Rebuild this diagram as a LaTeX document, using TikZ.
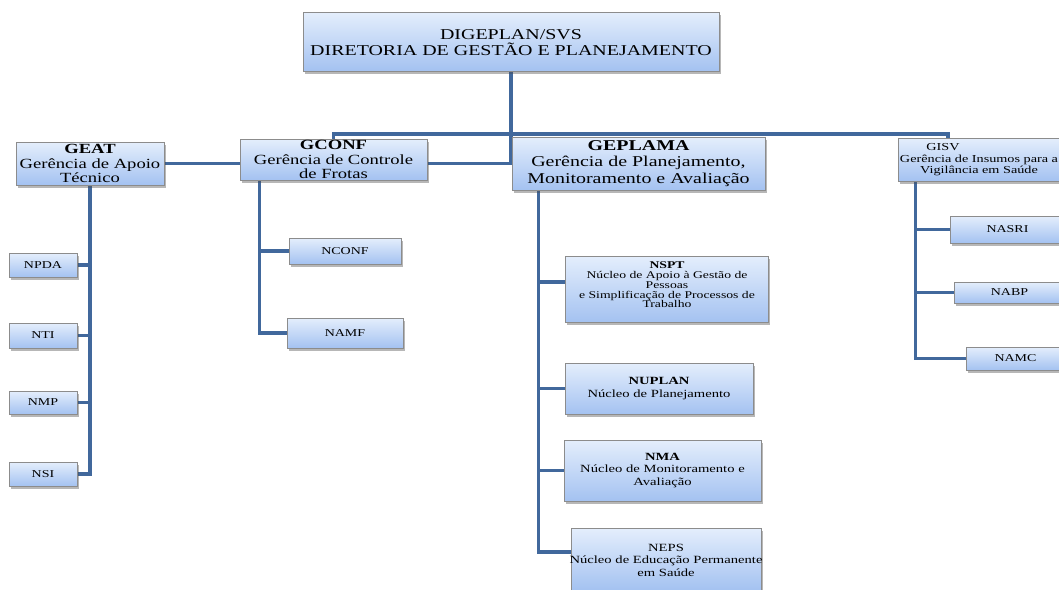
\documentclass[tikz,border=0pt]{standalone}
\usepackage{fontspec}
\setmainfont[FakeStretch=1.33]{Liberation Serif}
\usetikzlibrary{shadows,backgrounds}
\definecolor{linec}{HTML}{41689C}
\definecolor{boxtop}{HTML}{E4EEFC}
\definecolor{boxbot}{HTML}{A4C2F1}
\definecolor{boxdraw}{HTML}{8C8C8C}
\tikzset{
  obox/.style={draw=boxdraw, line width=0.8pt, top color=boxtop, bottom color=boxbot,
    inner sep=0pt, drop shadow={shadow xshift=2pt, shadow yshift=-2.5pt, opacity=0.4, fill=black!70}},
  txt/.style={align=center, inner sep=0pt},
  conn/.style={draw=linec, line width=3.6pt},
  big/.style={font=\fontsize{15}{16.5}\selectfont},
  mid/.style={font=\fontsize{14}{14.5}\selectfont},
  small/.style={font=\fontsize{11}{12.5}\selectfont},
  lab/.style={font=\fontsize{10.5}{12}\selectfont},
}
\begin{document}
\begin{tikzpicture}[x=1pt,y=-1pt]
\useasboundingbox (0,0) rectangle (1059,589);
\clip (0,0) rectangle (1059,589);

% top level
\node[obox,minimum width=416pt,minimum height=59pt] (top) at (511,41.5) {};
\node[txt,big] (topt) at (511,42.5) {DIGEPLAN/SVS\\DIRETORIA DE GESTÃO E PLANEJAMENTO};

% managers
\node[obox,minimum width=148pt,minimum height=43pt] (geat) at (90,163.5) {};
\node[txt,mid] (geatt) at (geat) {\textbf{GEAT}\\Gerência de Apoio\\Técnico};

\node[obox,minimum width=187pt,minimum height=41pt] (gconf) at (333.5,159.5) {};
\node[txt,mid] (gconft) at (gconf) {\textbf{GCONF}\\Gerência de Controle\\de Frotas};

\node[obox,minimum width=253pt,minimum height=53pt] (geplama) at (638.5,163.5) {};
\node[txt,big] (geplamat) at (geplama) {\textbf{GEPLAMA}\\Gerência de Planejamento,\\Monitoramento e Avaliação};

\node[obox,minimum width=167pt,minimum height=43pt] (gisv) at (981.5,159.5) {};
\node[txt,font=\fontsize{10.7}{11.5}\selectfont] (gisvt) at (979,160) {GISV\hspace*{72pt}\\Gerência de Insumos para a\\Vigilância em Saúde};

% GEAT children
\node[obox,minimum width=68pt,minimum height=24pt,lab] (npda) at (43,265) {NPDA};
\node[obox,minimum width=68pt,minimum height=25pt,lab] (nti) at (43,335.5) {NTI};
\node[obox,minimum width=68pt,minimum height=23pt,lab] (nmp) at (43,402.5) {NMP};
\node[obox,minimum width=68pt,minimum height=24pt,lab] (nsi) at (43,474) {NSI};

% GCONF children
\node[obox,minimum width=112pt,minimum height=26pt,lab] (nconf) at (345,251) {NCONF};
\node[obox,minimum width=116pt,minimum height=30pt,lab] (namf) at (345,333) {NAMF};

% GEPLAMA children
\node[obox,minimum width=203pt,minimum height=66pt] (nspt) at (666.5,289) {};
\node[txt,font=\fontsize{10.3}{9.7}\selectfont] (nsptt) at (667,285) {\textbf{NSPT}\\Núcleo de Apoio à Gestão de\\Pessoas\\e Simplificação de Processos de\\Trabalho};
\node[obox,minimum width=188pt,minimum height=51pt] (nuplan) at (659,388.5) {};
\node[txt,small] (nuplant) at (nuplan) {\textbf{NUPLAN}\\Núcleo de Planejamento};
\node[obox,minimum width=197pt,minimum height=61pt] (nma) at (662.5,470.5) {};
\node[txt,small] (nmat) at (nma) {\textbf{NMA}\\Núcleo de Monitoramento e\\Avaliação};
\node[obox,minimum width=190pt,minimum height=62pt] (neps) at (666,559) {};
\node[txt,small] (nepst) at (666,560) {NEPS\\Núcleo de Educação Permanente\\em Saúde};

% GISV children
\node[obox,minimum width=115pt,minimum height=27pt,lab] (nasri) at (1007.5,229.5) {NASRI};
\node[obox,minimum width=111pt,minimum height=21pt,lab] (nabp) at (1009.5,292.5) {NABP};
\node[obox,minimum width=99pt,minimum height=23pt,lab] (namc) at (1015.5,358.5) {NAMC};

\coordinate (busR) at (948,134);

\begin{scope}[on background layer]
  \draw[conn] (top.south) -- (top.south |- geat.east) -- (geat.east -| gconf.east);
  \draw[conn] (gconf.north) -- (gconf.north |- busR) -- (busR) -- (busR |- gisv.north);
  \draw[conn] (geat.east) -- (geat.east -| gconf.west);
  % GEAT
  \draw[conn] (geat.south) -- (geat.south |- nsi.east) -- (nsi.east);
  \foreach \n in {npda,nti,nmp} \draw[conn] (\n.east) -- (\n.east -| geat.south);
  % GCONF
  \coordinate (s2) at ([xshift=20pt]gconf.south west);
  \draw[conn] (s2) -- (s2 |- namf.west) -- (namf.west);
  \draw[conn] (nconf.west) -- (nconf.west -| s2);
  % GEPLAMA
  \coordinate (s3) at ([xshift=27pt]geplama.south west);
  \coordinate (nepsc) at ([yshift=7pt]neps.west);
  \coordinate (nsptc) at ([yshift=7pt]nspt.west);
  \draw[conn] (s3) -- (s3 |- nepsc) -- (nepsc);
  \draw[conn] (nsptc) -- (nsptc -| s3);
  \draw[conn] (nuplan.west) -- (nuplan.west -| s3);
  \draw[conn] (nma.west) -- (nma.west -| s3);
  % GISV
  \coordinate (s4) at ([xshift=18pt]gisv.south west);
  \draw[conn] (s4) -- (s4 |- namc.west) -- (namc.west);
  \draw[conn] (nasri.west) -- (nasri.west -| s4);
  \draw[conn] (nabp.west) -- (nabp.west -| s4);
\end{scope}
\end{tikzpicture}
\end{document}
